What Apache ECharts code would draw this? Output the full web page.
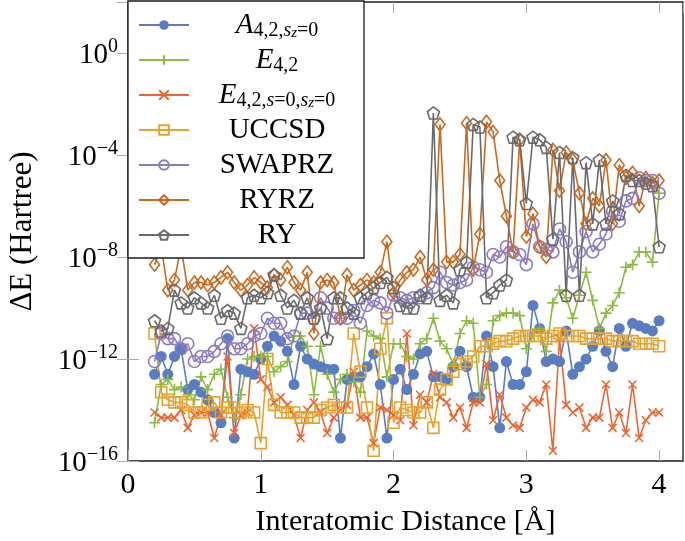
<!DOCTYPE html>
<html>
<head>
<meta charset="utf-8">
<script src="https://cdn.jsdelivr.net/npm/echarts@6/dist/echarts.min.js"></script>
<style>
html, body { margin: 0; padding: 0; background: #fff; }
#chart { width: 685px; height: 541px; }
</style>
</head>
<body>
<div id="chart"></div>
<script>
// interatomic distance (Angstrom)
var distance = [0.2, 0.25, 0.3, 0.35, 0.4, 0.45, 0.5, 0.55, 0.6, 0.65,
  0.7, 0.75, 0.8, 0.85, 0.9, 0.95, 1.0, 1.05, 1.1, 1.15,
  1.2, 1.25, 1.3, 1.35, 1.4, 1.45, 1.5, 1.55, 1.6, 1.65,
  1.7, 1.75, 1.8, 1.85, 1.9, 1.95, 2.0, 2.05, 2.1, 2.15,
  2.2, 2.25, 2.3, 2.35, 2.4, 2.45, 2.5, 2.55, 2.6, 2.65,
  2.7, 2.75, 2.8, 2.85, 2.9, 2.95, 3.0, 3.05, 3.1, 3.15,
  3.2, 3.25, 3.3, 3.35, 3.4, 3.45, 3.5, 3.55, 3.6, 3.65,
  3.7, 3.75, 3.8, 3.85, 3.9, 3.95, 4.0];

// log10 of the energy error
var logA = [-12.6, -11.9, -12.6, -11.9, -11.6, -13.2, -13.0, -13.3, -13.6, -14.1,
  -14.5, -11.2, -15.1, -12.4, -12.5, -12.6, -12.0, -11.5, -11.1, -11.3,
  -11.7, -13.0, -11.5, -12.0, -12.2, -12.3, -12.4, -12.4, -15.1, -12.8,
  -12.7, -12.7, -12.3, -11.8, -13.0, -15.1, -12.8, -12.4, -13.2, -12.6,
  -11.8, -11.7, -12.7, -12.7, -12.8, -12.3, -11.7, -12.3, -13.5, -13.5,
  -11.1, -12.3, -14.7, -12.1, -13.0, -13.0, -12.5, -9.9, -10.8, -12.1,
  -12.0, -12.1, -10.9, -12.6, -12.3, -12.0, -11.5, -10.9, -11.7, -12.3,
  -10.8, -11.5, -10.6, -10.7, -10.8, -10.9, -10.5];

var logE = [-14.5, -13.0, -12.8, -13.2, -13.1, -13.4, -13.6, -12.7, -13.2, -12.6,
  -12.4, -13.5, -14.3, -13.4, -12.0, -11.9, -11.9, -11.9, -12.5, -12.3,
  -12.1, -11.1, -11.1, -11.5, -13.4, -11.5, -12.6, -13.3, -12.8, -12.6,
  -12.9, -13.3, -10.9, -11.1, -11.2, -12.7, -11.4, -11.4, -11.9, -12.0,
  -11.4, -11.2, -10.4, -11.3, -11.6, -12.2, -11.0, -10.5, -10.6, -13.5,
  -13.0, -10.5, -10.3, -10.2, -10.2, -10.3, -11.6, -11.0, -10.8, -11.7,
  -9.8, -9.3, -9.6, -10.4, -9.5, -8.6, -9.7, -10.8, -10.2, -9.9,
  -9.4, -8.4, -8.3, -7.8, -7.8, -8.2, -5.5];

var logEs = [-14.1, -14.3, -14.3, -14.3, -14.0, -14.7, -14.2, -14.1, -14.1, -15.1,
  -14.2, -11.9, -14.9, -14.2, -14.1, -10.8, -12.8, -13.1, -13.7, -13.5,
  -13.8, -14.2, -15.1, -14.0, -13.7, -14.1, -14.9, -14.3, -14.0, -13.8,
  -12.5, -14.3, -14.3, -15.3, -13.9, -14.0, -14.2, -14.4, -11.0, -14.6,
  -13.4, -13.7, -12.6, -13.5, -13.7, -14.3, -13.9, -14.7, -13.7, -13.7,
  -12.2, -14.4, -13.4, -14.3, -14.6, -14.7, -13.9, -13.6, -13.7, -13.0,
  -15.6, -11.2, -13.8, -14.1, -13.9, -14.7, -14.3, -14.3, -13.0, -14.7,
  -14.1, -14.9, -13.0, -15.1, -14.4, -14.1, -14.1];

var logUCCSD = [-11.0, -13.3, -13.6, -13.7, -13.7, -13.8, -14.1, -14.1, -13.8, -13.7,
  -14.1, -13.9, -13.9, -14.1, -14.0, -14.1, -15.3, -12.0, -13.8, -14.1,
  -14.1, -14.1, -14.3, -14.3, -14.3, -14.0, -13.9, -13.8, -13.9, -13.9,
  -11.0, -12.5, -13.9, -15.6, -11.6, -10.4, -14.5, -13.9, -14.0, -14.1,
  -14.1, -13.7, -14.7, -13.2, -12.8, -12.5, -12.2, -12.1, -11.9, -11.5,
  -11.5, -11.4, -11.3, -11.3, -11.2, -11.1, -11.1, -11.1, -11.1, -11.2,
  -11.1, -11.0, -11.1, -11.1, -11.1, -11.2, -11.2, -11.2, -11.2, -11.3,
  -11.3, -11.3, -11.3, -11.4, -11.4, -11.4, -11.5];

var logSWAPRZ = [-12.1, -11.0, -11.2, -11.2, -11.6, -11.4, -12.1, -11.9, -11.9, -11.7,
  -11.4, -11.1, -11.6, -11.6, -11.4, -11.1, -11.0, -10.4, -10.6, -10.6,
  -11.2, -11.1, -10.2, -10.2, -10.4, -9.6, -10.0, -10.4, -10.4, -10.4,
  -10.1, -10.6, -9.9, -9.7, -9.8, -10.2, -9.5, -9.6, -9.7, -9.6,
  -9.6, -9.4, -9.2, -8.6, -9.0, -9.1, -9.0, -8.9, -8.4, -8.5,
  -8.6, -7.9, -8.0, -7.6, -7.8, -7.9, -8.3, -6.7, -7.6, -7.7,
  -7.8, -6.9, -7.4, -8.6, -7.8, -7.0, -7.8, -7.5, -7.1, -6.2,
  -6.6, -5.8, -5.7, -4.9, -5.0, -5.0, -5.5];

var logRYRZ = [-8.3, -7.6, -9.3, -8.9, -7.6, -9.3, -9.0, -9.0, -9.1, -9.0,
  -8.8, -8.6, -9.0, -9.3, -9.1, -8.8, -9.0, -9.2, -8.7, -8.9,
  -8.4, -9.0, -9.3, -8.6, -11.0, -9.0, -8.9, -9.0, -10.4, -8.7,
  -9.3, -9.1, -8.9, -9.0, -8.6, -7.4, -9.4, -8.9, -8.6, -8.5,
  -8.0, -8.9, -8.5, -2.8, -8.2, -8.2, -7.9, -2.75, -8.5, -7.1,
  -2.7, -3.1, -5.0, -6.4, -7.8, -3.4, -7.2, -6.3, -7.6, -8.0,
  -3.8, -5.4, -3.9, -4.2, -5.5, -6.7, -5.7, -6.0, -4.2, -6.7,
  -4.4, -4.9, -4.7, -6.0, -4.9, -5.1, -5.0];

var logRY = [-10.5, -10.9, -10.8, -9.3, -9.8, -10.0, -9.6, -9.8, -10.0, -9.5,
  -10.4, -10.1, -10.2, -10.8, -9.6, -9.5, -9.6, -9.4, -8.7, -9.5,
  -10.0, -9.7, -10.2, -9.6, -10.4, -10.0, -11.2, -9.6, -9.6, -10.0,
  -10.2, -9.6, -9.4, -9.2, -9.0, -8.8, -9.2, -9.9, -10.0, -10.0,
  -9.5, -9.6, -2.35, -9.7, -9.5, -9.8, -8.5, -8.2, -2.8, -2.9,
  -9.6, -9.4, -9.1, -8.9, -3.3, -3.4, -5.9, -3.3, -3.4, -3.7,
  -7.3, -3.9, -9.5, -4.1, -9.5, -4.3, -6.7, -4.2, -6.7, -5.8,
  -6.3, -4.8, -5.0, -5.0, -5.1, -5.2, -7.6];

var seriesNames = ['A', 'E', 'Es', 'UCCSD', 'SWAPRZ', 'RYRZ', 'RY'];
var yTicks = [-16, -12, -8, -4, 0];

var FONT = '"Liberation Serif", "DejaVu Serif", serif';

var legendText = {
  A: '{it|A}{sub|4,2,}{subi|s}{subsub|z}{sub|=0}',
  E: '{it|E}{sub|4,2}',
  Es: '{it|E}{sub|4,2,}{subi|s}{sub|=0,}{subi|s}{subsub|z}{sub|=0}',
  UCCSD: '{n|UCCSD}',
  SWAPRZ: '{n|SWAPRZ}',
  RYRZ: '{n|RYRZ}',
  RY: '{n|RY}'
};

var plusPath = 'path://M5,0L5,10M0,5L10,5';
var crossPath = 'path://M0,0L10,10M10,0L0,10';
var pentaPath = 'path://M10,0L19.51,6.91L15.88,18.09L4.12,18.09L0.49,6.91Z';

function pts(logs) {
  return distance.map(function (x, i) { return [x, Math.pow(10, logs[i])]; });
}

function lineSeries(name, logs, color, symbol, size, filled) {
  return {
    name: name,
    type: 'line',
    data: pts(logs),
    symbol: symbol,
    symbolSize: size,
    showSymbol: true,
    lineStyle: { color: color, width: 1.6 },
    itemStyle: {
      color: filled ? color : 'rgba(0,0,0,0)',
      borderColor: color,
      borderWidth: filled ? 0 : 1.6
    },
    emphasis: { disabled: true },
    animation: false
  };
}

var dom = document.getElementById('chart');
var myChart = echarts.init(dom, null, { renderer: 'canvas' });

var tickStyle = { inside: true, length: 11, lineStyle: { color: '#aaaaaa', width: 1 } };

var option = {
  backgroundColor: '#ffffff',
  animation: false,
  grid: {
    left: 128, right: 2, top: 2, bottom: 80,
    show: true, borderColor: '#1a1a1a', borderWidth: 1.3,
    outerBoundsMode: 'none'
  },
  legend: {
    orient: 'vertical',
    left: 128, top: 1,
    padding: [8, 4, 7, 10],
    itemGap: 3,
    itemWidth: 50,
    itemHeight: 12,
    backgroundColor: '#ffffff',
    borderColor: '#1a1a1a',
    borderWidth: 1.3,
    selectedMode: false,
    data: seriesNames,
    formatter: function (name) { return legendText[name]; },
    textStyle: {
      fontFamily: FONT, fontSize: 29, color: '#000', width: 166, height: 32, lineHeight: 32,
      rich: {
        n: { fontFamily: FONT, fontSize: 29, lineHeight: 32, align: 'center', verticalAlign: 'middle' },
        it: { fontFamily: FONT, fontSize: 29, fontStyle: 'italic', lineHeight: 32, align: 'center', verticalAlign: 'middle' },
        sub: { fontFamily: FONT, fontSize: 20, lineHeight: 20, align: 'center', verticalAlign: 'bottom' },
        subi: { fontFamily: FONT, fontSize: 20, fontStyle: 'italic', lineHeight: 20, align: 'center', verticalAlign: 'bottom' },
        subsub: { fontFamily: FONT, fontSize: 15, fontStyle: 'italic', lineHeight: 12, align: 'center', verticalAlign: 'bottom' }
      }
    }
  },
  xAxis: [{
    type: 'value',
    min: 0, max: 4.18, interval: 1,
    name: 'Interatomic Distance [Å]',
    nameLocation: 'middle',
    nameGap: 46,
    nameTextStyle: { fontFamily: FONT, fontSize: 30, color: '#000' },
    axisLine: { show: false },
    axisTick: tickStyle,
    splitLine: { show: false },
    axisLabel: { fontFamily: FONT, fontSize: 30, color: '#000', margin: 9, showMaxLabel: false }
  }, {
    type: 'value',
    position: 'top',
    min: 0, max: 4.18, interval: 1,
    axisLine: { show: false },
    axisTick: tickStyle,
    splitLine: { show: false },
    axisLabel: { show: false }
  }],
  yAxis: [{
    type: 'log',
    logBase: 10,
    min: 1e-16, max: 1e2, interval: 4,
    name: 'ΔE (Hartree)',
    nameLocation: 'middle',
    nameGap: 90,
    nameTextStyle: { fontFamily: FONT, fontSize: 31, color: '#000' },
    axisLine: { show: false },
    axisTick: tickStyle,
    splitLine: { show: false },
    axisLabel: {
      margin: 10,
      showMaxLabel: false,
      formatter: function (v) {
        var e = Math.round(Math.log10(v));
        if (yTicks.indexOf(e) < 0) return '';
        return '{b|10}{s|' + (e < 0 ? '\u2212' + (-e) : e) + '}';
      },
      rich: {
        b: { fontFamily: FONT, fontSize: 29, color: '#000', lineHeight: 33, verticalAlign: 'bottom' },
        s: { fontFamily: FONT, fontSize: 20, color: '#000', lineHeight: 20, verticalAlign: 'top' }
      }
    }
  }, {
    type: 'log',
    logBase: 10,
    position: 'right',
    min: 1e-16, max: 1e2, interval: 4,
    axisLine: { show: false },
    axisTick: tickStyle,
    splitLine: { show: false },
    axisLabel: { show: false }
  }],
  series: [
    lineSeries('A', logA, '#5a7dc2', 'circle', 11, true),
    lineSeries('E', logE, '#8bbb3f', plusPath, 11, false),
    lineSeries('Es', logEs, '#ec6532', crossPath, 8, false),
    lineSeries('UCCSD', logUCCSD, '#e6a22c', 'rect', 11, false),
    lineSeries('SWAPRZ', logSWAPRZ, '#8b7ac4', 'circle', 12, false),
    lineSeries('RYRZ', logRYRZ, '#c96a20', 'diamond', [10, 13], false),
    lineSeries('RY', logRY, '#6a6a6a', pentaPath, 12, false)
  ]
};

if (option && typeof option === 'object') {
  myChart.setOption(option, true);
}
</script>
</body>
</html>
